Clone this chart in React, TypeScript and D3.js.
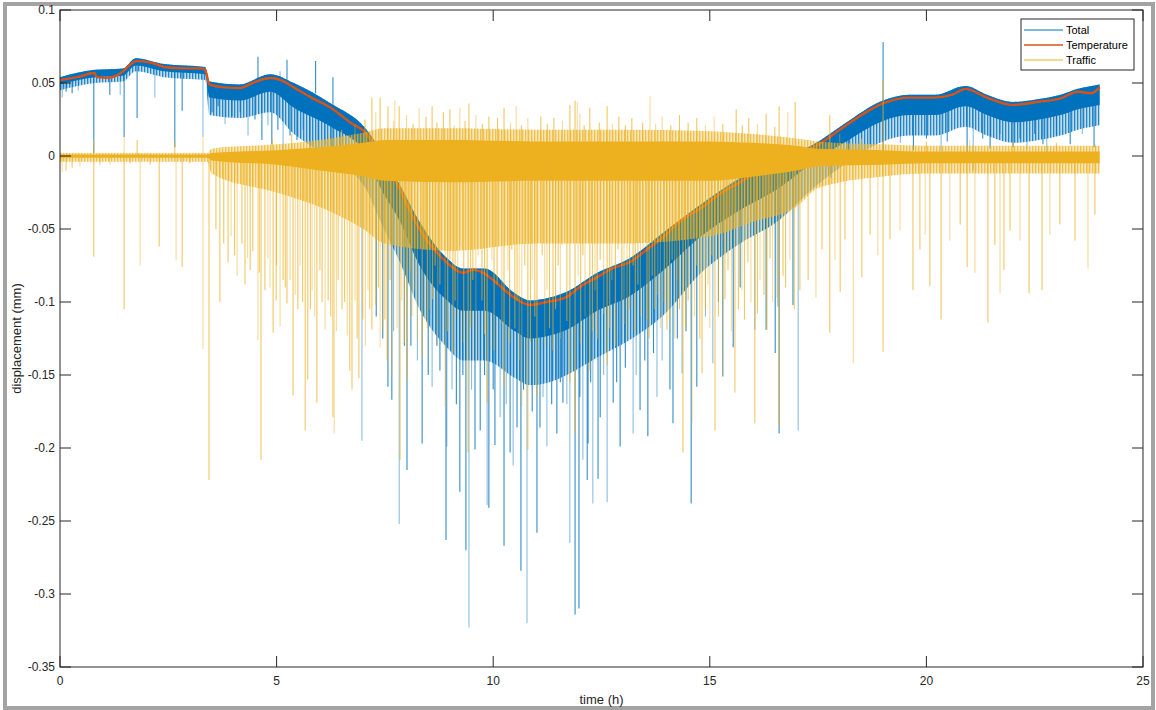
import React from "react";
import * as d3 from "d3";

// ---------- DATA ----------
const xTicks = [0, 5, 10, 15, 20, 25];
const yTicks = [0.1, 0.05, 0, -0.05, -0.1, -0.15, -0.2, -0.25, -0.3, -0.35];
const seriesNames = ["Total", "Temperature", "Traffic"];

// Temperature component (hours, mm)
const tempT = [0, 0.4, 0.8, 0.85, 1.1, 1.3, 1.45, 1.6, 1.75, 2.1, 2.4, 2.9, 3.25, 3.35, 3.45, 3.8, 4.15, 4.5, 4.85, 5.1, 5.4, 5.8, 6.25, 6.7, 7.05, 7.4, 7.85, 8.2, 8.47, 8.93, 9.3, 9.54, 9.77, 10.08, 10.46, 10.85, 11.24, 11.7, 12.0, 12.4, 12.77, 13.16, 13.55, 13.93, 14.3, 14.8, 15.3, 15.7, 16.2, 16.6, 17.0, 17.4, 18.1, 18.5, 19.0, 19.6, 20.16, 20.6, 20.9, 21.4, 22.0, 22.55, 23.1, 23.5, 23.8, 24.0];
const tempV = [0.052, 0.054, 0.0568, 0.054, 0.0535, 0.055, 0.058, 0.062, 0.065, 0.064, 0.061, 0.06, 0.06, 0.059, 0.049, 0.047, 0.0466, 0.0507, 0.0534, 0.052, 0.047, 0.04, 0.033, 0.023, 0.016, 0.0007, -0.023, -0.045, -0.0575, -0.073, -0.08, -0.078, -0.08, -0.087, -0.0965, -0.102, -0.1, -0.0965, -0.0897, -0.083, -0.0767, -0.0726, -0.064, -0.0555, -0.045, -0.0356, -0.0247, -0.018, -0.0096, -0.004, 0.0007, 0.006, 0.02, 0.028, 0.036, 0.04, 0.04, 0.042, 0.046, 0.04, 0.035, 0.037, 0.0395, 0.044, 0.043, 0.047];

// Total: dense band (absolute values) — core and lighter fringe
const totalBandT = [0, 0.8, 1.45, 1.75, 2.4, 3.35, 3.45, 4.15, 4.85, 5.4, 6.25, 7.05, 7.4, 7.85, 8.3, 8.9, 9.3, 9.8, 10.5, 10.85, 11.3, 11.7, 12.4, 13.15, 13.9, 14.8, 15.7, 16.6, 17.4, 18.1, 19.0, 19.6, 20.2, 20.9, 21.4, 22.0, 22.6, 23.1, 23.5, 24.0];
const totalBandHigh = [0.054, 0.059, 0.06, 0.067, 0.063, 0.061, 0.051, 0.049, 0.056, 0.05, 0.036, 0.019, 0.004, -0.02, -0.045, -0.069, -0.077, -0.077, -0.094, -0.099, -0.097, -0.093, -0.08, -0.07, -0.053, -0.033, -0.015, -0.001, 0.008, 0.022, 0.038, 0.042, 0.042, 0.048, 0.042, 0.037, 0.039, 0.042, 0.046, 0.049];
const totalBandLow = [0.049, 0.054, 0.055, 0.062, 0.058, 0.056, 0.04, 0.038, 0.044, 0.033, 0.02, 0.002, -0.022, -0.045, -0.075, -0.098, -0.106, -0.106, -0.12, -0.125, -0.123, -0.119, -0.106, -0.096, -0.079, -0.055, -0.037, -0.022, -0.004, 0.009, 0.024, 0.028, 0.028, 0.034, 0.028, 0.023, 0.025, 0.028, 0.032, 0.035];
const totalFringeLow = [0.045, 0.05, 0.051, 0.058, 0.054, 0.052, 0.028, 0.026, 0.03, 0.015, -0.002, -0.022, -0.045, -0.073, -0.105, -0.13, -0.14, -0.14, -0.152, -0.157, -0.155, -0.15, -0.138, -0.126, -0.11, -0.08, -0.06, -0.044, -0.022, -0.006, 0.01, 0.014, 0.014, 0.02, 0.014, 0.009, 0.011, 0.014, 0.018, 0.021];

// Total: individual spikes [time, from, to]
const totalSpikes = [
  [0.05, 0.05, 0.04], [0.14, 0.051, 0.044], [0.28, 0.052, 0.043], [0.42, 0.053, 0.045], [0.78, 0.056, 0.002], [1.15, 0.053, 0.042], [1.39, 0.056, 0.042], [1.48, 0.057, 0.013], [1.78, 0.064, 0.026], [2.19, 0.063, 0.04], [2.65, 0.06, 0.006], [2.82, 0.06, 0.031], [3.3, 0.059, 0.013],
  [3.51, 0.048, 0.03], [3.65, 0.047, 0.034], [3.81, 0.046, 0.022], [3.97, 0.046, 0.027], [4.16, 0.046, 0.03], [4.34, 0.048, 0.014], [4.5, 0.05, 0.025], [4.66, 0.052, 0.011], [4.8, 0.053, 0.021], [4.89, 0.053, 0.008], [5.03, 0.052, 0.018], [5.15, 0.051, 0.004], [5.31, 0.048, 0.014], [5.47, 0.046, 0.011], [5.61, 0.044, 0.018], [5.77, 0.041, 0.004], [5.96, 0.038, 0.011], [6.12, 0.035, 0.008], [6.28, 0.032, 0.004], [6.46, 0.027, 0.005], [6.6, 0.025, 0.002],
  [4.57, 0.052, 0.068], [5.24, 0.051, 0.066], [5.08, 0.052, 0.058], [5.9, 0.043, 0.065], [6.3, 0.033, 0.054],
  [6.97, 0.012, -0.195], [7.57, -0.01, -0.158], [7.66, -0.015, -0.167], [7.83, -0.022, -0.252], [8.01, -0.035, -0.215], [8.36, -0.055, -0.197], [8.59, -0.062, -0.158], [8.77, -0.068, -0.147], [8.91, -0.072, -0.263], [8.93, -0.073, -0.199], [9.23, -0.079, -0.23], [9.37, -0.08, -0.27], [9.44, -0.08, -0.323], [9.58, -0.079, -0.201], [9.7, -0.08, -0.188], [9.86, -0.082, -0.239], [9.9, -0.083, -0.241], [10.04, -0.086, -0.198], [10.16, -0.089, -0.179], [10.25, -0.091, -0.267], [10.39, -0.095, -0.203], [10.46, -0.096, -0.212], [10.55, -0.098, -0.186], [10.64, -0.1, -0.284], [10.78, -0.102, -0.32], [11.01, -0.101, -0.258], [11.08, -0.101, -0.186], [11.24, -0.1, -0.199], [11.47, -0.098, -0.19], [11.61, -0.097, -0.169], [11.77, -0.096, -0.265], [11.89, -0.093, -0.314], [11.98, -0.09, -0.31], [12.07, -0.089, -0.208], [12.17, -0.087, -0.222], [12.19, -0.087, -0.197], [12.3, -0.085, -0.238], [12.42, -0.083, -0.221], [12.47, -0.082, -0.179], [12.63, -0.079, -0.237], [12.77, -0.077, -0.169], [12.93, -0.075, -0.199], [13.23, -0.072, -0.19], [13.39, -0.068, -0.174], [13.57, -0.064, -0.192], [13.78, -0.059, -0.165], [14.08, -0.052, -0.16], [14.15, -0.05, -0.183], [14.36, -0.044, -0.149], [14.57, -0.04, -0.238], [14.7, -0.037, -0.158], [15.07, -0.028, -0.142], [15.3, -0.024, -0.151], [15.54, -0.02, -0.131], [16.04, -0.011, -0.119], [16.3, -0.007, -0.119], [16.51, -0.005, -0.135], [16.57, -0.005, -0.103], [16.6, -0.004, -0.19], [16.92, 0, -0.102], [17.04, 0.001, -0.188],
  [7.3, 0, -0.11], [7.45, -0.005, -0.125], [7.7, -0.015, -0.12], [7.95, -0.03, -0.13], [8.1, -0.04, -0.13], [8.25, -0.05, -0.14], [8.5, -0.06, -0.15], [8.7, -0.066, -0.13], [9.05, -0.076, -0.16], [9.15, -0.078, -0.17], [9.3, -0.08, -0.15], [9.5, -0.079, -0.16], [9.8, -0.081, -0.15], [10.0, -0.085, -0.16], [10.3, -0.093, -0.17], [10.7, -0.101, -0.16], [10.9, -0.102, -0.175], [11.15, -0.101, -0.165], [11.35, -0.099, -0.17], [11.55, -0.097, -0.155], [11.7, -0.096, -0.17], [12.0, -0.09, -0.165], [12.25, -0.086, -0.155], [12.55, -0.081, -0.15], [12.85, -0.076, -0.155], [13.05, -0.074, -0.145], [13.3, -0.07, -0.15], [13.5, -0.066, -0.14], [13.7, -0.061, -0.135], [13.9, -0.056, -0.14], [14.25, -0.047, -0.125], [14.45, -0.042, -0.12], [14.9, -0.032, -0.11], [15.2, -0.026, -0.1], [15.7, -0.018, -0.09],
  [17.6, 0.01, -0.02], [17.8, 0.013, -0.015], [18.2, 0.021, 0], [18.5, 0.028, 0.003], [18.7, 0.031, 0.008], [19.0, 0.036, -0.001], [19.4, 0.039, 0.009], [19.7, 0.04, 0.004], [20.0, 0.04, 0.012], [20.34, 0.04, 0.003], [20.48, 0.041, 0.01], [20.94, 0.045, 0], [21.08, 0.044, -0.01], [21.3, 0.042, 0.012], [21.47, 0.04, 0.005], [21.7, 0.038, 0.015], [22.0, 0.035, 0.006], [22.16, 0.035, 0.012], [22.32, 0.036, 0.004], [22.5, 0.036, 0.015], [22.69, 0.037, 0.008], [22.78, 0.037, 0.002], [23.0, 0.039, 0.014], [23.32, 0.042, 0.008], [23.6, 0.043, 0.015], [23.87, 0.043, 0.006],
  [19.0, 0.036, 0.078],
];

// Traffic: dense band around zero
const trafficBandT = [0, 3.4, 3.5, 5, 6, 7, 7.5, 9, 11, 13, 15, 16, 17, 17.5, 19, 20, 22, 24];
const trafficCoreUp = [0.001, 0.001, 0.002, 0.004, 0.006, 0.009, 0.011, 0.011, 0.01, 0.01, 0.01, 0.009, 0.007, 0.005, 0.004, 0.003, 0.003, 0.003];
const trafficCoreLow = [-0.0012, -0.0012, -0.003, -0.006, -0.01, -0.014, -0.017, -0.018, -0.017, -0.017, -0.017, -0.014, -0.01, -0.007, -0.006, -0.005, -0.005, -0.005];
const trafficFringeUp = [0.002, 0.002, 0.005, 0.008, 0.011, 0.016, 0.019, 0.019, 0.018, 0.018, 0.017, 0.015, 0.012, 0.01, 0.008, 0.007, 0.007, 0.007];
const trafficFringeLow = [-0.004, -0.004, -0.012, -0.025, -0.035, -0.05, -0.06, -0.065, -0.06, -0.06, -0.055, -0.045, -0.035, -0.022, -0.014, -0.012, -0.012, -0.012];

// Traffic: individual spikes [time, value]
const trafficSpikes = [
  [0.05, -0.011], [0.14, -0.01], [0.28, -0.008], [0.46, -0.007], [0.78, -0.069], [0.92, -0.006], [1.15, -0.006], [1.48, -0.105], [1.62, -0.005], [1.85, -0.075], [2.08, -0.006], [2.29, -0.062], [2.68, -0.071], [2.82, -0.076], [3.0, -0.005], [3.3, -0.132], [3.44, -0.222],
  [0.78, 0.011], [1.48, 0.013], [1.78, 0.011], [2.65, 0.01], [3.3, 0.013],
  [3.69, -0.1], [3.88, -0.073], [4.09, -0.082], [4.27, -0.088], [4.39, -0.078], [4.57, -0.126], [4.64, -0.208], [4.73, -0.092], [4.8, -0.07], [4.92, -0.121], [4.99, -0.099], [5.08, -0.117], [5.15, -0.085], [5.24, -0.101], [5.31, -0.085], [5.38, -0.164], [5.49, -0.105], [5.54, -0.075], [5.66, -0.188], [5.72, -0.153], [5.82, -0.092], [5.93, -0.169], [6.0, -0.078], [6.12, -0.119], [6.19, -0.099], [6.3, -0.179], [6.33, -0.19], [6.42, -0.085], [6.51, -0.105], [6.63, -0.123], [6.69, -0.147], [6.74, -0.16], [6.81, -0.099], [6.9, -0.152], [6.99, -0.112], [7.11, -0.092], [7.2, -0.119], [7.29, -0.102], [7.39, -0.131], [7.5, -0.112], [7.55, -0.14], [7.66, -0.151],
  [3.6, -0.05], [3.78, -0.06], [3.95, -0.055], [4.03, -0.068], [4.2, -0.06], [4.33, -0.07], [4.45, -0.065], [4.6, -0.08], [4.85, -0.09], [5.0, -0.075], [5.2, -0.09], [5.43, -0.095], [5.6, -0.1], [5.78, -0.105], [5.88, -0.11], [6.05, -0.1], [6.25, -0.11], [6.38, -0.12], [6.57, -0.1], [6.86, -0.125], [7.05, -0.13], [7.15, -0.105], [7.35, -0.09], [7.45, -0.12],
  [4.9, 0.012], [5.35, 0.015], [5.8, 0.01], [6.2, 0.014], [6.5, 0.018], [6.81, 0.021], [7.04, 0.025], [7.2, 0.04], [7.29, 0.03], [7.39, 0.04], [7.57, 0.034], [7.73, 0.038], [7.83, 0.034],
  [7.85, -0.208], [7.89, -0.099], [8.01, -0.153], [8.08, -0.078], [8.19, -0.092], [8.36, -0.138], [8.43, -0.064], [8.54, -0.105], [8.66, -0.075], [8.77, -0.088], [8.89, -0.172], [9.0, -0.071], [9.12, -0.099], [9.23, -0.061], [9.42, -0.203], [9.53, -0.085], [9.65, -0.068], [9.74, -0.099], [9.86, -0.169], [9.97, -0.071], [10.09, -0.088], [10.25, -0.158], [10.34, -0.078], [10.43, -0.064], [10.55, -0.099], [10.66, -0.172], [10.73, -0.075], [10.8, -0.201], [10.9, -0.085], [11.01, -0.165], [11.13, -0.068], [11.24, -0.092], [11.38, -0.133], [11.5, -0.075], [11.59, -0.061], [11.77, -0.155], [11.89, -0.19], [11.96, -0.082], [12.07, -0.068], [12.23, -0.147], [12.35, -0.092], [12.47, -0.071], [12.63, -0.143], [12.74, -0.085], [12.88, -0.064], [12.97, -0.099], [13.09, -0.126], [13.23, -0.075], [13.34, -0.088], [13.46, -0.064], [13.55, -0.112], [13.67, -0.082], [13.8, -0.095], [14.01, -0.119], [14.13, -0.071], [14.24, -0.085], [14.38, -0.203], [14.5, -0.099], [14.59, -0.183], [14.7, -0.075], [14.82, -0.149], [14.96, -0.088], [15.05, -0.068], [15.12, -0.188], [15.3, -0.151], [15.42, -0.078], [15.58, -0.162], [15.74, -0.092], [15.88, -0.073], [16.04, -0.183], [16.16, -0.085], [16.32, -0.119], [16.39, -0.07], [16.55, -0.097], [16.6, -0.186], [16.69, -0.082], [16.85, -0.071], [17.08, -0.092],
  [7.62, -0.085], [7.78, -0.118], [7.95, -0.128], [8.12, -0.11], [8.25, -0.125], [8.48, -0.118], [8.6, -0.098], [8.72, -0.13], [8.95, -0.12], [9.07, -0.135], [9.18, -0.112], [9.32, -0.128], [9.48, -0.117], [9.6, -0.14], [9.8, -0.122], [10.02, -0.133], [10.2, -0.115], [10.38, -0.128], [10.5, -0.118], [10.6, -0.14], [10.86, -0.127], [10.96, -0.11], [11.19, -0.13], [11.3, -0.118], [11.44, -0.105], [11.55, -0.125], [11.7, -0.113], [12.02, -0.128], [12.12, -0.11], [12.29, -0.12], [12.4, -0.125], [12.55, -0.108], [12.69, -0.118], [12.82, -0.13], [13.02, -0.115], [13.15, -0.105], [13.28, -0.12], [13.4, -0.11], [13.6, -0.125], [13.73, -0.105], [13.86, -0.118], [13.95, -0.1], [14.07, -0.112], [14.19, -0.125], [14.3, -0.105], [14.44, -0.118], [14.65, -0.11], [14.77, -0.125], [14.9, -0.105], [15.0, -0.118], [15.2, -0.11], [15.35, -0.098], [15.5, -0.12], [15.66, -0.105], [15.8, -0.112], [15.95, -0.1], [16.1, -0.108], [16.25, -0.095], [16.45, -0.1], [16.75, -0.09], [16.95, -0.105],
  [8.29, 0.033], [8.59, 0.034], [9.0, 0.032], [9.23, 0.033], [9.44, 0.036], [10.25, 0.033], [10.53, 0.034], [11.77, 0.035], [11.89, 0.038], [11.94, 0.037], [12.23, 0.033], [12.63, 0.034], [13.62, 0.041], [15.61, 0.032], [16.6, 0.034], [16.8, 0.03], [16.97, 0.037], [17.77, 0.028],
  [8.0, 0.028], [8.45, 0.027], [8.85, 0.03], [9.6, 0.028], [9.9, 0.027], [10.1, 0.026], [10.8, 0.026], [11.1, 0.027], [11.4, 0.026], [12.0, 0.029], [12.9, 0.027], [13.2, 0.026], [13.9, 0.027], [14.3, 0.028], [14.7, 0.026], [15.1, 0.027], [15.9, 0.026], [16.3, 0.029],
  [7.7, 0.024], [8.15, 0.022], [8.7, 0.023], [9.1, 0.021], [9.35, 0.024], [9.75, 0.022], [10.4, 0.023], [10.65, 0.021], [11.25, 0.022], [11.6, 0.024], [12.1, 0.021], [12.45, 0.023], [12.75, 0.022], [13.05, 0.021], [13.45, 0.023], [13.75, 0.022], [14.1, 0.021], [14.5, 0.023], [14.9, 0.021], [15.3, 0.022], [15.75, 0.021], [16.1, 0.022], [16.5, 0.02],
  [17.27, -0.085], [17.45, -0.097], [17.59, -0.064], [17.77, -0.121], [17.89, -0.071], [18.01, -0.093], [18.12, -0.057], [18.31, -0.142], [18.51, -0.083], [18.7, -0.054], [18.88, -0.068], [19.0, -0.134], [19.16, -0.057], [19.39, -0.051], [19.69, -0.092], [19.85, -0.064], [19.97, -0.054], [20.08, -0.089], [20.34, -0.112], [20.54, -0.058], [20.78, -0.047], [20.94, -0.076], [21.12, -0.08], [21.42, -0.114], [21.58, -0.061], [21.7, -0.094], [21.79, -0.078], [21.93, -0.051], [22.16, -0.058], [22.37, -0.094], [22.67, -0.092], [22.85, -0.054], [23.08, -0.047], [23.43, -0.058], [23.73, -0.077], [23.89, -0.04],
  [19.0, 0.052], [18.0, 0.015], [18.5, 0.012], [20.0, 0.01], [21.0, 0.011], [22.0, 0.01], [23.0, 0.009], [23.9, 0.008],
];

// ---------- STYLE ----------
const C_TOTAL = "#0072BD";
const C_TEMP = "#D95319";
const C_TRAFFIC = "#EDB120";
const AXIS = "#262626";
const FONT = "'Liberation Sans', Arial, Helvetica, sans-serif";

export default function App() {
  const W = 1156, H = 710;
  const L = 60, R = 1143, T = 10, B = 667;
  const x = d3.scaleLinear().domain([0, 25]).range([L, R]);
  const y = d3.scaleLinear().domain([-0.35, 0.1]).range([B, T]);
  const curve = d3.curveMonotoneX;

  const tempLine = d3.line<number>().curve(curve).x((_, i) => x(tempT[i])).y((v) => y(v))(tempV) || "";
  const bandArea = (ts: number[], hi: number[], lo: number[]) =>
    d3.area<number>().curve(curve).x((t) => x(t)).y0((_, i) => y(lo[i])).y1((_, i) => y(hi[i]))(ts) || "";

  const totalCore = bandArea(totalBandT, totalBandHigh, totalBandLow);
  const totalFringe = bandArea(totalBandT, totalBandHigh, totalFringeLow);
  const trafCore = bandArea(trafficBandT, trafficCoreUp, trafficCoreLow);
  const trafFringe = bandArea(trafficBandT, trafficFringeUp, trafficFringeLow);

  const tickLen = 11;

  return (
    <div>
      <style>{`body{margin:0}`}</style>
      <svg width={W} height={H} style={{ display: "block" }} fontFamily={FONT}>
        <defs>
          <pattern id="bStripe" patternUnits="userSpaceOnUse" width={3} height={8}>
            <rect x={0} y={0} width={1.4} height={8} fill={C_TOTAL} opacity={0.85} />
            <rect x={1.4} y={0} width={1.6} height={8} fill={C_TOTAL} opacity={0.25} />
          </pattern>
          <pattern id="yStripe" patternUnits="userSpaceOnUse" width={3} height={8}>
            <rect x={0} y={0} width={1.5} height={8} fill={C_TRAFFIC} opacity={0.8} />
            <rect x={1.5} y={0} width={1.5} height={8} fill={C_TRAFFIC} opacity={0.3} />
          </pattern>
          <clipPath id="plotclip">
            <rect x={L} y={T} width={R - L} height={B - T} />
          </clipPath>
        </defs>
        <rect x={0} y={0} width={W} height={H} fill="#fff" />
        <rect x={5} y={4} width={1148} height={704} fill="#fff" stroke="#a3a3a3" strokeWidth={4} />
        <g clipPath="url(#plotclip)">
          {/* Total */}
          <path d={totalFringe} fill="url(#bStripe)" />
          <path d={totalCore} fill={C_TOTAL} />
          {totalSpikes.map((s, i) => (
            <line key={"ts" + i} x1={x(s[0])} x2={x(s[0])} y1={y(s[1])} y2={y(s[2])}
              stroke={C_TOTAL} strokeWidth={1.1} opacity={i % 3 === 0 ? 0.45 : 0.8} />
          ))}
          {/* Temperature */}
          <path d={tempLine} fill="none" stroke={C_TEMP} strokeWidth={2.4} strokeLinejoin="round" />
          {/* Traffic */}
          <path d={trafFringe} fill="url(#yStripe)" />
          <path d={trafCore} fill={C_TRAFFIC} />
          {trafficSpikes.map((s, i) => (
            <line key={"tr" + i} x1={x(s[0])} x2={x(s[0])} y1={y(0)} y2={y(s[1])}
              stroke={C_TRAFFIC} strokeWidth={1.1} opacity={i % 3 === 0 ? 0.45 : 0.7} />
          ))}
        </g>
        {/* Axes box */}
        <rect x={L} y={T} width={R - L} height={B - T} fill="none" stroke={AXIS} strokeWidth={1} />
        {xTicks.map((t) => (
          <g key={"xt" + t}>
            <line x1={x(t)} x2={x(t)} y1={B} y2={B - tickLen} stroke={AXIS} />
            <line x1={x(t)} x2={x(t)} y1={T} y2={T + tickLen} stroke={AXIS} />
            <text x={x(t)} y={681} textAnchor="middle" dominantBaseline="central" fontSize={12} fill={AXIS}>{t}</text>
          </g>
        ))}
        {yTicks.map((v) => (
          <g key={"yt" + v}>
            <line x1={L} x2={L + tickLen} y1={y(v)} y2={y(v)} stroke={AXIS} />
            <line x1={R} x2={R - tickLen} y1={y(v)} y2={y(v)} stroke={AXIS} />
            <text x={55} y={y(v)} textAnchor="end" dominantBaseline="central" fontSize={12} fill={AXIS}>{String(v)}</text>
          </g>
        ))}
        <text x={(L + R) / 2} y={699} textAnchor="middle" dominantBaseline="central" fontSize={13} fill={AXIS}>time (h)</text>
        <text transform={`translate(16,${(T + B) / 2}) rotate(-90)`} textAnchor="middle" dominantBaseline="central" fontSize={13} fill={AXIS}>displacement (mm)</text>
        {/* Legend */}
        <rect x={1021} y={19} width={113} height={51} fill="#fff" stroke={AXIS} strokeWidth={1} />
        {seriesNames.map((n, i) => (
          <g key={n}>
            <line x1={1024} x2={1063} y1={30 + i * 15} y2={30 + i * 15} stroke={[C_TOTAL, C_TEMP, C_TRAFFIC][i]} strokeWidth={i === 1 ? 1.5 : 1} />
            <text x={1066} y={30 + i * 15} dominantBaseline="central" fontSize={11} fill="#000">{n}</text>
          </g>
        ))}
      </svg>
    </div>
  );
}
